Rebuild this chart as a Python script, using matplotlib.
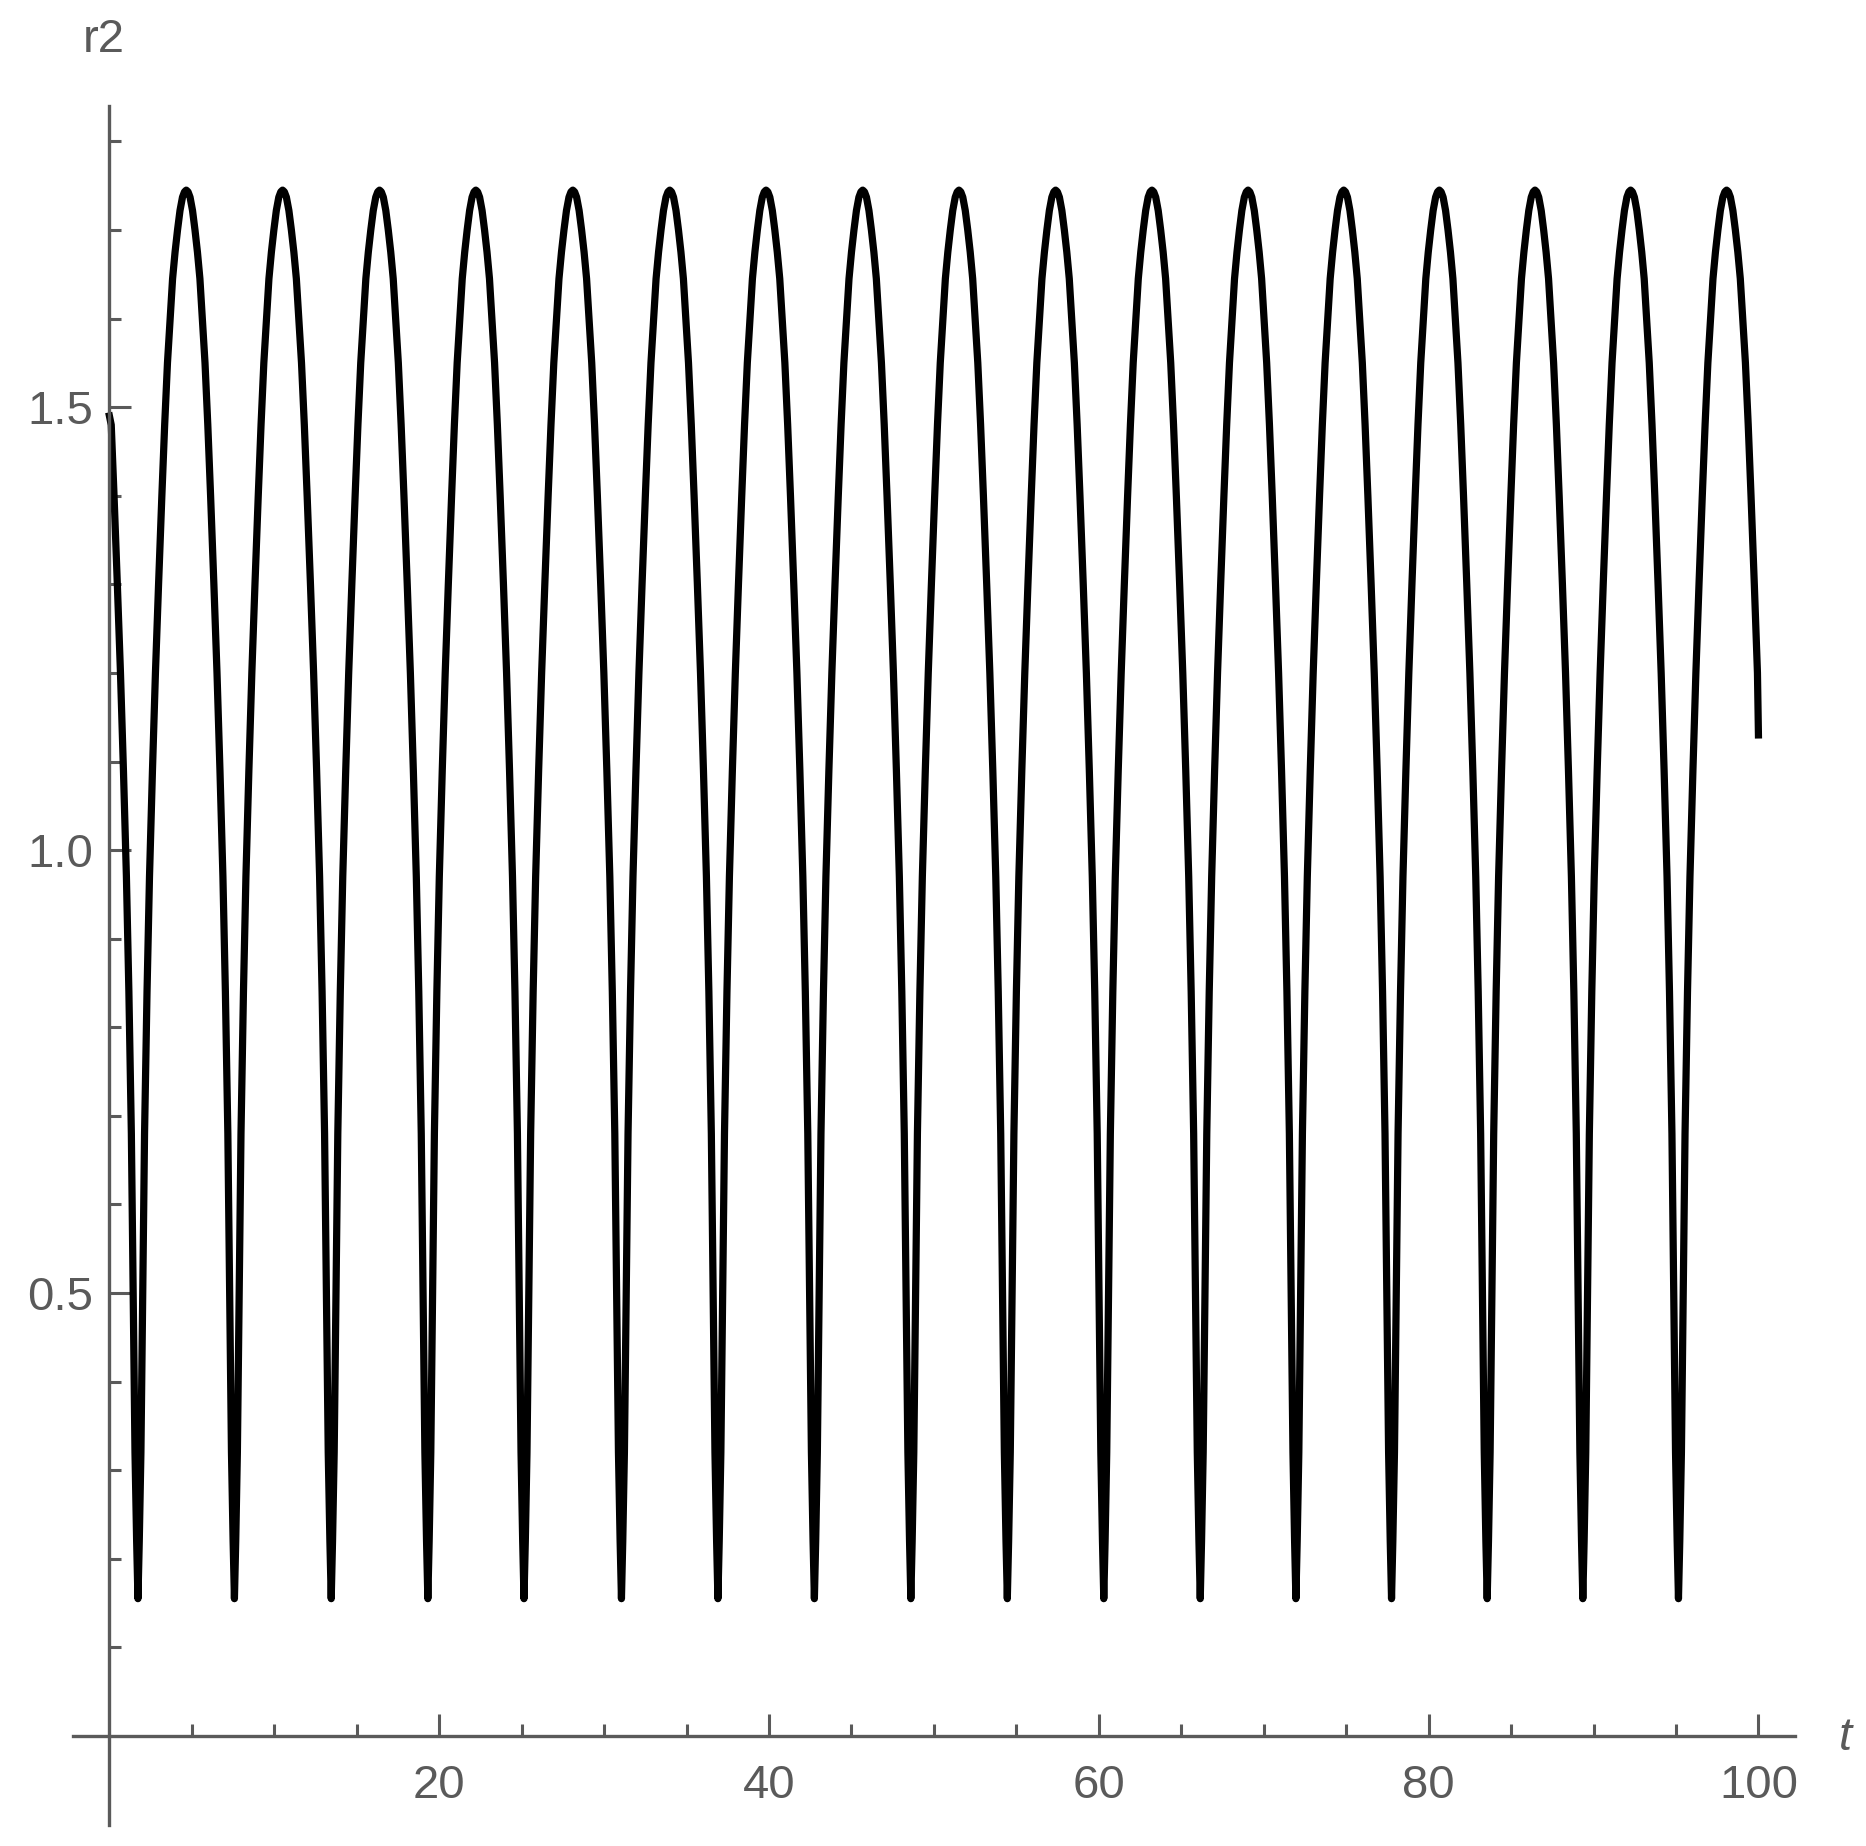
import numpy as np
import matplotlib
matplotlib.use('Agg')
import matplotlib.pyplot as plt
from matplotlib.ticker import MultipleLocator, FixedLocator

# values
trough_t = [1.73, 7.58, 13.45, 19.31, 25.14, 31.05, 36.9, 42.75, 48.6,
            54.45, 60.3, 66.15, 71.95, 77.75, 83.55, 89.35, 95.15]
peak_t = [4.66, 10.5, 16.38, 22.22, 28.1, 33.98, 39.82, 45.68, 51.52,
          57.38, 63.22, 69.05, 74.85, 80.65, 86.45, 92.25, 98.07]
# shape of one half arch, trough -> peak (time after trough, r2)
arch_d = [0.00, 0.08, 0.18, 0.30, 0.40, 0.55, 0.70, 0.88, 1.06, 1.25, 1.45,
          1.62, 1.79, 1.95, 2.10, 2.25, 2.40, 2.55, 2.70, 2.82, 2.93]
arch_r = [0.155, 0.22, 0.32, 0.52, 0.68, 0.84, 0.97, 1.09, 1.20, 1.30, 1.40,
          1.48, 1.55, 1.60, 1.645, 1.675, 1.70, 1.722, 1.737, 1.743, 1.745]
t_first, r_first = 0.0, 1.49
t_last, r_last = 100.0, 1.13

x_ticks = [20, 40, 60, 80, 100]
y_ticks = [0.5, 1.0, 1.5]

gray = '#5a5a5a'
plt.rcParams['font.family'] = ['Liberation Sans', 'DejaVu Sans']

# build the curve from the read arches
d = np.array(arch_d)
r = np.array(arch_r)
half = d[-1]
ts = [t_first]
rs = [r_first]
# falling side before the first trough
tt = trough_t[0] - d[::-1]
m = tt > t_first
ts += list(tt[m]); rs += list(r[::-1][m])
for i in range(len(trough_t)):
    a = trough_t[i]
    p = peak_t[i]
    ts += list(a + d * (p - a) / half); rs += list(r)
    if i + 1 < len(trough_t):
        b = trough_t[i + 1]
        ts += list(b - d[::-1][1:] * (b - p) / half); rs += list(r[::-1][1:])
    else:
        tt = p + (half - d[::-1][1:])
        m = tt < t_last
        ts += list(tt[m]); rs += list(r[::-1][1:][m])
ts.append(t_last)
rs.append(r_last)

fig = plt.figure(figsize=(9.33, 9.23), dpi=200)
ax = fig.add_axes([0.0392, 0.0116, 0.9226, 0.931])
ax.plot(ts, rs, color='black', linewidth=2.6, solid_joinstyle='round')

ax.set_xlim(-2.2, 102.2)
ax.set_ylim(-0.1, 1.84)
ax.spines['left'].set_position(('data', 0))
ax.spines['bottom'].set_position(('data', 0))
ax.spines['top'].set_visible(False)
ax.spines['right'].set_visible(False)
for s in ['left', 'bottom']:
    ax.spines[s].set_color(gray)
    ax.spines[s].set_linewidth(1.2)

ax.xaxis.set_major_locator(FixedLocator(x_ticks))
ax.xaxis.set_minor_locator(FixedLocator([v for v in range(5, 101, 5) if v % 20]))
ax.yaxis.set_major_locator(FixedLocator(y_ticks))
ax.yaxis.set_minor_locator(FixedLocator([round(0.1 * k, 1) for k in range(1, 19) if k % 5]))
ax.set_yticklabels(['%.1f' % v for v in y_ticks])
ax.tick_params(which='major', direction='in', length=8, width=1.1, color=gray,
               labelcolor=gray, labelsize=17)
ax.tick_params(which='minor', direction='in', length=4.3, width=1.1, color=gray)
ax.tick_params(axis='x', pad=10)
ax.tick_params(axis='y', pad=6)

fig.text(104 / 1866, 1 - 40 / 1846, 'r2', color=gray, fontsize=17,
         ha='center', va='center')
fig.text(1845 / 1866, 1 - 1738 / 1846, 't', color=gray, fontsize=17,
         style='italic', ha='center', va='center')

fig.savefig('out.png', dpi=200)
